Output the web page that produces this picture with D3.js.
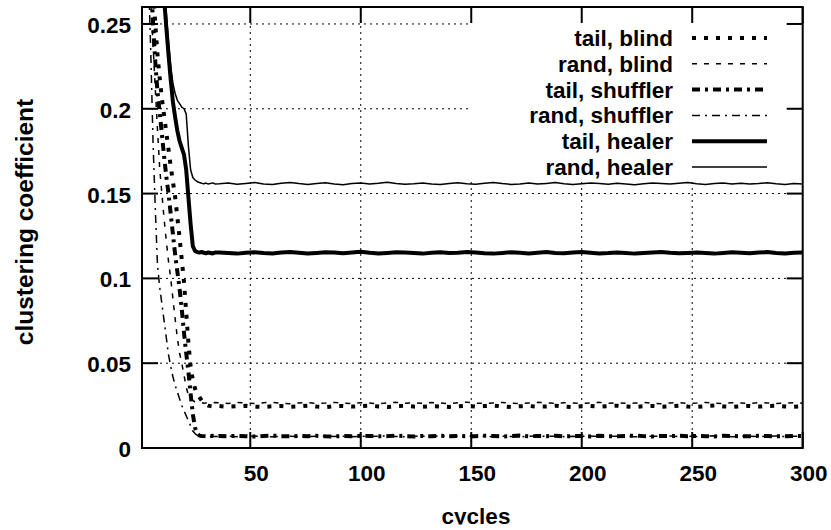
<!DOCTYPE html>
<html>
<head>
<meta charset="utf-8">
<script src="https://cdn.jsdelivr.net/npm/d3@7"></script>
<style>
  html, body { margin: 0; padding: 0; background: #fff; }
  svg { display: block; }
  text { font-family: "Liberation Sans", Arial, sans-serif; font-weight: bold; fill: #000; }
</style>
</head>
<body>
<svg id="chart" width="831" height="530"></svg>
<script>
// Simulation cycles at which the clustering coefficient was sampled
const cycles = [
  1,2,3,4,5,6,7,8,9,10,11,12,13,14,15,16,17,18,19,20,21,22,23,24,25,26,27,28,29,30,31,32,33,34,
  36,40,44,48,52,56,60,64,68,72,76,80,84,88,92,96,100,104,108,112,116,120,124,128,132,136,140,144,
  148,152,156,160,164,168,172,176,180,184,188,192,196,200,204,208,212,216,220,224,228,232,236,240,
  244,248,252,256,260,264,268,272,276,280,284,288,292,296,300
];

const tailBlind = [
  0.70,0.55,0.43,0.35,0.30,0.272,0.250,0.232,0.218,0.206,
  0.196,0.186,0.176,0.166,0.157,0.148,0.136,0.124,0.111,0.098,
  0.080,0.062,0.048,0.040,0.035,0.032,0.030,0.028,0.0265,0.0256,
  0.0250,0.0247,0.0245,0.0248,
  0.0247,0.0243,0.0246,0.0249,0.0244,0.0242,0.0246,0.0248,0.0243,0.0245,
  0.0249,0.0244,0.0241,0.0246,0.0248,0.0244,0.0247,0.0250,0.0245,0.0242,
  0.0246,0.0249,0.0244,0.0243,0.0247,0.0245,0.0242,0.0246,0.0249,0.0244,
  0.0247,0.0250,0.0245,0.0242,0.0246,0.0248,0.0243,0.0245,0.0249,0.0244,
  0.0241,0.0246,0.0248,0.0244,0.0247,0.0249,0.0245,0.0242,0.0246,0.0248,
  0.0243,0.0245,0.0249,0.0244,0.0242,0.0247,0.0250,0.0245,0.0243,0.0246,
  0.0248,0.0244,0.0247,0.0249,0.0245,0.0243,0.0246
];

const randBlind = [
  0.60,0.46,0.36,0.295,0.262,0.238,0.212,0.188,0.165,0.150,
  0.135,0.122,0.110,0.100,0.088,0.076,0.065,0.056,0.050,0.043,
  0.036,0.031,0.029,0.028,0.0272,0.0268,0.0265,0.0267,0.0264,0.0266,
  0.0263,0.0267,0.0265,0.0268,
  0.0266,0.0263,0.0268,0.0265,0.0262,0.0267,0.0269,0.0264,0.0261,0.0266,
  0.0268,0.0263,0.0265,0.0269,0.0264,0.0262,0.0267,0.0265,0.0261,0.0266,
  0.0269,0.0264,0.0266,0.0263,0.0268,0.0265,0.0262,0.0267,0.0270,0.0264,
  0.0263,0.0266,0.0268,0.0264,0.0261,0.0265,0.0269,0.0266,0.0263,0.0267,
  0.0265,0.0262,0.0266,0.0269,0.0264,0.0267,0.0263,0.0265,0.0268,0.0264,
  0.0261,0.0266,0.0268,0.0263,0.0265,0.0269,0.0264,0.0262,0.0267,0.0265,
  0.0263,0.0268,0.0266,0.0262,0.0265,0.0267,0.0264
];

const tailShuffler = [
  0.65,0.50,0.39,0.32,0.28,0.25,0.228,0.210,0.198,0.185,
  0.172,0.160,0.150,0.138,0.126,0.114,0.104,0.094,0.082,0.068,
  0.056,0.045,0.032,0.020,0.012,0.0085,0.0073,0.0071,0.0070,0.0069,
  0.0071,0.0070,0.0072,0.0070,
  0.0071,0.0069,0.0072,0.0070,0.0068,0.0071,0.0073,0.0070,0.0069,0.0071,
  0.0070,0.0072,0.0069,0.0068,0.0071,0.0070,0.0072,0.0071,0.0069,0.0070,
  0.0073,0.0070,0.0068,0.0071,0.0069,0.0072,0.0070,0.0071,0.0069,0.0070,
  0.0072,0.0071,0.0068,0.0070,0.0073,0.0069,0.0071,0.0070,0.0072,0.0069,
  0.0070,0.0071,0.0068,0.0072,0.0070,0.0069,0.0071,0.0073,0.0070,0.0068,
  0.0071,0.0070,0.0072,0.0069,0.0071,0.0070,0.0068,0.0072,0.0071,0.0069,
  0.0070,0.0072,0.0071,0.0069,0.0070,0.0071,0.0070
];

const randShuffler = [
  0.55,0.42,0.33,0.275,0.232,0.180,0.142,0.108,0.095,0.085,
  0.075,0.065,0.055,0.048,0.042,0.037,0.033,0.029,0.025,0.022,
  0.019,0.016,0.013,0.010,0.0085,0.0075,0.0070,0.0068,0.0069,0.0067,
  0.0070,0.0067,0.0069,0.0068,
  0.0068,0.0070,0.0067,0.0069,0.0071,0.0068,0.0066,0.0069,0.0070,0.0068,
  0.0067,0.0069,0.0071,0.0068,0.0070,0.0067,0.0069,0.0068,0.0070,0.0072,
  0.0068,0.0066,0.0069,0.0070,0.0068,0.0071,0.0067,0.0069,0.0068,0.0070,
  0.0069,0.0067,0.0070,0.0068,0.0066,0.0069,0.0071,0.0068,0.0070,0.0067,
  0.0069,0.0068,0.0071,0.0067,0.0069,0.0070,0.0068,0.0066,0.0069,0.0070,
  0.0068,0.0071,0.0067,0.0069,0.0068,0.0070,0.0072,0.0068,0.0067,0.0069,
  0.0070,0.0068,0.0069,0.0071,0.0067,0.0069,0.0068
];

const tailHealer = [
  0.62,0.58,0.54,0.50,0.46,0.42,0.38,0.35,0.32,0.29,
  0.265,0.248,0.232,0.217,0.204,0.195,0.187,0.181,0.177,0.173,
  0.164,0.148,0.132,0.119,0.1162,0.1155,0.1152,0.1156,0.1151,0.1148,
  0.1153,0.1150,0.1147,0.1152,
  0.1153,0.1149,0.1146,0.1151,0.1154,0.1149,0.1147,0.1152,0.1156,0.1151,
  0.1147,0.1150,0.1154,0.1152,0.1148,0.1152,0.1157,0.1151,0.1147,0.1150,
  0.1154,0.1152,0.1149,0.1146,0.1151,0.1154,0.1149,0.1151,0.1156,0.1152,
  0.1148,0.1146,0.1150,0.1154,0.1151,0.1147,0.1151,0.1155,0.1150,0.1148,
  0.1152,0.1156,0.1151,0.1147,0.1149,0.1153,0.1150,0.1146,0.1149,0.1152,
  0.1156,0.1151,0.1148,0.1150,0.1153,0.1149,0.1146,0.1150,0.1154,0.1151,
  0.1148,0.1152,0.1155,0.1150,0.1147,0.1151,0.1153
];

const randHealer = [
  0.64,0.60,0.56,0.52,0.48,0.44,0.40,0.36,0.33,0.30,
  0.276,0.256,0.239,0.225,0.215,0.209,0.205,0.203,0.201,0.200,
  0.197,0.178,0.164,0.1595,0.158,0.157,0.1565,0.1561,0.1558,0.1562,
  0.1556,0.1560,0.1563,0.1557,
  0.1558,0.1562,0.1555,0.1560,0.1565,0.1557,0.1553,0.1561,0.1566,0.1559,
  0.1554,0.1560,0.1564,0.1556,0.1552,0.1559,0.1563,0.1557,0.1561,0.1567,
  0.1560,0.1555,0.1558,0.1563,0.1557,0.1553,0.1559,0.1564,0.1558,0.1555,
  0.1561,0.1566,0.1559,0.1554,0.1557,0.1562,0.1556,0.1560,0.1565,0.1558,
  0.1553,0.1558,0.1563,0.1559,0.1555,0.1561,0.1557,0.1552,0.1558,0.1563,
  0.1560,0.1556,0.1561,0.1565,0.1558,0.1554,0.1559,0.1563,0.1557,0.1561,
  0.1556,0.1559,0.1564,0.1558,0.1554,0.1559,0.1557
];

const seriesNames = ["tail, blind", "rand, blind", "tail, shuffler", "rand, shuffler", "tail, healer", "rand, healer"];
const seriesValues = [tailBlind, randBlind, tailShuffler, randShuffler, tailHealer, randHealer];

const xTicks = [50, 100, 150, 200, 250, 300];
const yTicks = [0, 0.05, 0.1, 0.15, 0.2, 0.25];
const yTickLabels = ["0", "0.05", "0.1", "0.15", "0.2", "0.25"];

// Stroke styles per series (gnuplot-like line types)
const styles = [
  { width: 4,   dash: "4,8" },
  { width: 1.5, dash: "5,7" },
  { width: 4,   dash: "8,5,3,5" },
  { width: 1.5, dash: "8,5,2,5" },
  { width: 4,   dash: null },
  { width: 1.5, dash: null }
];

const svg = d3.select("#chart");
const plotL = 142, plotR = 802.7, plotT = 7, plotB = 448;
const fontSize = 22.5;

const x = d3.scaleLinear().domain([1, 300]).range([plotL, plotR]);
const y = d3.scaleLinear().domain([0, 0.26]).range([plotB, plotT]);

const defs = svg.append("defs");
defs.append("clipPath").attr("id", "plotClip")
  .append("rect").attr("x", plotL).attr("y", plotT)
  .attr("width", plotR - plotL).attr("height", plotB - plotT);
defs.append("clipPath").attr("id", "titleClip")
  .append("rect").attr("x", 0).attr("y", 0).attr("width", 831).attr("height", 524.5);

// grid
const grid = svg.append("g").attr("stroke", "#000").attr("stroke-width", 1)
  .attr("stroke-dasharray", "2,4").attr("fill", "none");
xTicks.filter(t => t < 300).forEach(t => {
  grid.append("line").attr("x1", x(t)).attr("x2", x(t)).attr("y1", plotB).attr("y2", plotT);
});
yTicks.filter(t => t > 0).forEach(t => {
  grid.append("line").attr("x1", plotL).attr("x2", plotR).attr("y1", y(t)).attr("y2", y(t));
});

// legend background
const key = { textRight: 673, sampleX1: 692, sampleX2: 767, rowY0: 38, rowStep: 25.8 };
svg.append("rect").attr("x", 470).attr("y", plotT + 2).attr("width", plotR - 472)
  .attr("height", key.rowY0 + key.rowStep * 5 + 10 - plotT).attr("fill", "#fff");

// curves
const line = d3.line().x((d, i) => x(cycles[i])).y(d => y(d));
const curves = svg.append("g").attr("clip-path", "url(#plotClip)");
seriesValues.forEach((vals, k) => {
  curves.append("path").datum(vals)
    .attr("d", line)
    .attr("fill", "none")
    .attr("stroke", "#000")
    .attr("stroke-width", styles[k].width)
    .attr("stroke-dasharray", styles[k].dash)
    .attr("stroke-linejoin", "round");
});

// frame
svg.append("rect").attr("x", plotL).attr("y", plotT)
  .attr("width", plotR - plotL).attr("height", plotB - plotT)
  .attr("fill", "none").attr("stroke", "#000").attr("stroke-width", 2);

// ticks (inward, mirrored)
const ticks = svg.append("g").attr("stroke", "#000").attr("stroke-width", 2);
const tl = 16;
xTicks.forEach(t => {
  ticks.append("line").attr("x1", x(t)).attr("x2", x(t)).attr("y1", plotB).attr("y2", plotB - tl);
  ticks.append("line").attr("x1", x(t)).attr("x2", x(t)).attr("y1", plotT).attr("y2", plotT + tl);
});
yTicks.forEach(t => {
  ticks.append("line").attr("x1", plotL).attr("x2", plotL + tl).attr("y1", y(t)).attr("y2", y(t));
  ticks.append("line").attr("x1", plotR).attr("x2", plotR - tl).attr("y1", y(t)).attr("y2", y(t));
});

// tick labels
svg.append("g").selectAll("text").data(xTicks).join("text")
  .attr("x", d => x(d) + 6).attr("y", 481)
  .attr("text-anchor", "middle").attr("font-size", fontSize)
  .text(d => d);
svg.append("g").selectAll("text").data(yTicks).join("text")
  .attr("x", 131).attr("y", d => y(d) + 9)
  .attr("text-anchor", "end").attr("font-size", fontSize)
  .text((d, i) => yTickLabels[i]);

// axis titles
svg.append("text").attr("x", 476).attr("y", 524)
  .attr("clip-path", "url(#titleClip)")
  .attr("text-anchor", "middle").attr("font-size", fontSize).text("cycles");
svg.append("text").attr("transform", "translate(33,222) rotate(-90)")
  .attr("text-anchor", "middle").attr("font-size", 24.5).text("clustering coefficient");

// legend
seriesNames.forEach((name, k) => {
  const ry = key.rowY0 + k * key.rowStep;
  svg.append("text").attr("x", key.textRight).attr("y", ry + 8)
    .attr("text-anchor", "end").attr("font-size", fontSize).text(name);
  svg.append("line").attr("x1", key.sampleX1).attr("x2", key.sampleX2)
    .attr("y1", ry).attr("y2", ry)
    .attr("stroke", "#000").attr("stroke-width", styles[k].width)
    .attr("stroke-dasharray", styles[k].dash);
});
</script>
</body>
</html>
